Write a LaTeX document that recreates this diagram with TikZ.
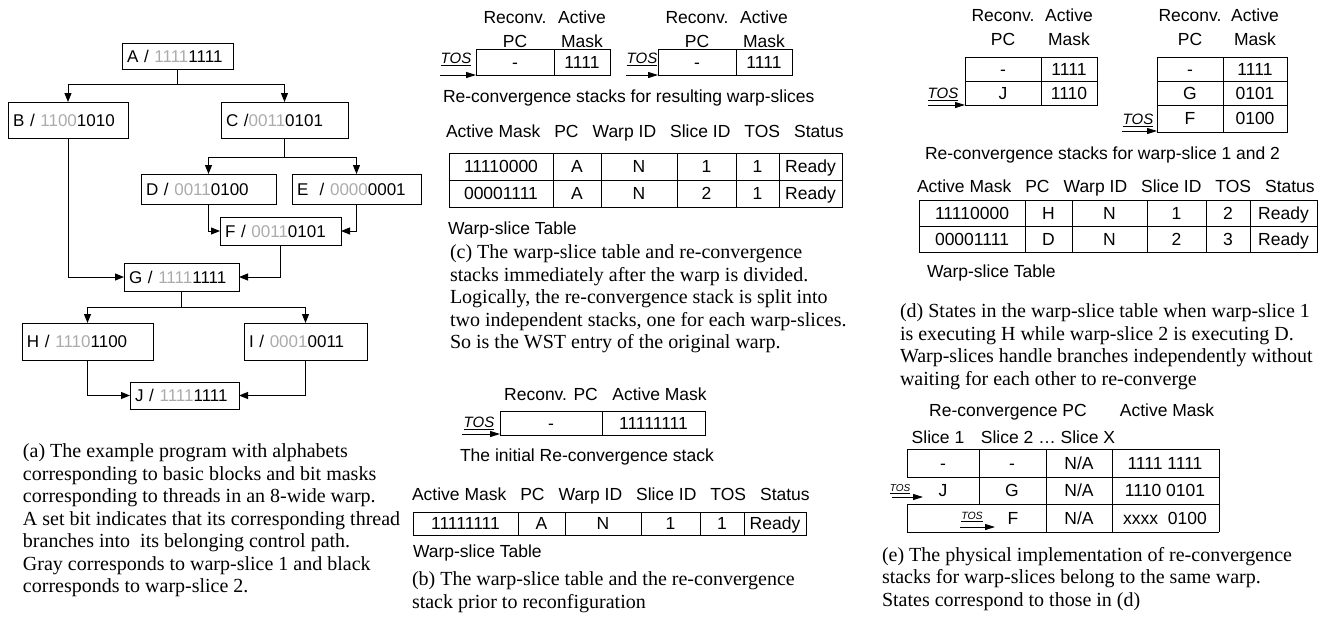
\documentclass[tikz,border=0pt]{standalone}
\usepackage{fontspec}
\setmainfont{Liberation Serif}
\setsansfont{Liberation Sans}
\usetikzlibrary{positioning,arrows.meta}
\definecolor{SliceGray}{HTML}{ABABAB}
\newcommand{\gbit}[1]{\textcolor{SliceGray}{#1}}
\newcommand{\hgap}{\hspace{14pt}}

\begin{document}
\begin{tikzpicture}[x=1pt,y=-1pt,line width=1pt,
  every node/.style={font=\sffamily\fontsize{17.5}{24}\selectfont,inner sep=0pt,outer sep=0pt}]
\tikzstyle{blk}=[draw,anchor=north west,align=left,inner xsep=5pt,text height=12.5pt,text depth=0pt,font=\sffamily\fontsize{17}{20}\selectfont]
\tikzstyle{cell}=[draw,minimum height=27pt,text height=12.5pt,text depth=0pt]
\tikzstyle{hd}=[text height=12.5pt,text depth=0pt]
\tikzstyle{tos}=[font=\sffamily\itshape\fontsize{15}{15}\selectfont]
\tikzstyle{captxt}=[font=\rmfamily\fontsize{20}{22.5}\selectfont,align=left,anchor=north west]
\tikzstyle{arr}=[-{Triangle[length=9pt,width=7pt]}]
\tikzstyle{tarr}=[-{Triangle[length=10pt,width=6pt]}]
\useasboundingbox (0,0) rectangle (1331,622);

% (a) control flow of the example program
\node[blk,text width=101pt,minimum height=26pt] (A) at (122,43) {\mbox{A / \gbit{1111}1111}};
\node[blk,text width=110pt,minimum height=36pt] (B) at (8,102) {\mbox{B / \gbit{1100}1010}};
\node[blk,text width=117pt,minimum height=36pt] (C) at (221,102) {\mbox{C /\gbit{0011}0101}};
\node[blk,text width=125pt,minimum height=30pt] (D) at (141,174) {\mbox{D / \gbit{0011}0100}};
\node[blk,text width=119pt,minimum height=30pt] (E) at (292,174) {\mbox{E\ \ / \gbit{0000}0001}};
\node[blk,text width=111pt,minimum height=28pt] (F) at (220,217) {\mbox{F / \gbit{0011}0101}};
\node[blk,text width=105pt,minimum height=28pt] (G) at (124,263) {\mbox{G / \gbit{1111}1111}};
\node[blk,text width=121pt,minimum height=37pt] (H) at (22,323) {\mbox{H / \gbit{1110}1100}};
\node[blk,text width=113pt,minimum height=37pt] (I) at (244,323) {\mbox{I / \gbit{0001}0011}};
\node[blk,text width=99pt,minimum height=27pt] (J) at (130,382) {\mbox{J / \gbit{1111}1111}};
\draw[arr] (A.south) -- ++(0,15) -| (B.north);
\draw[arr] (A.south) -- ++(0,15) -| (C.north);
\draw[arr] (C.south) -- ++(0,19) -| (D.north);
\draw[arr] (C.south) -- ++(0,19) -| (E.north);
\draw[arr] (D.south) |- (F.west);
\draw[arr] (E.south) |- (F.east);
\draw[arr] (B.south) |- (G.west);
\draw[arr] (F.south) |- (G.east);
\draw[arr] (G.south) -- ++(0,16) -| (H.north);
\draw[arr] (G.south) -- ++(0,16) -| (I.north);
\draw[arr] (H.south) |- (J.west);
\draw[arr] (I.south) |- (J.east);
\node[captxt] (capa) at (23,444) {(a) The example program with alphabets\\corresponding to basic blocks and bit masks\\corresponding to threads in an 8-wide warp.\\A set bit indicates that its corresponding thread\\branches into\ \ its belonging control path.\\Gray corresponds to warp-slice 1 and black\\corresponds to warp-slice 2.};

% (b) before the split
\node[cell,minimum width=102pt,minimum height=24pt,anchor=north west] (bs1) at (500,411) {-};
\node[cell,minimum width=103pt,minimum height=24pt,right=0pt of bs1] (bs2) {11111111};
\node[hd,above=11pt of bs1] (bh1) {Reconv. PC};
\node[hd,above=11pt of bs2,xshift=6pt] (bh2) {Active Mask};
\node[tos] (bt) at (479,423) {\underline{TOS}};
\coordinate (btt) at (462,434);
\draw[tarr] (btt) -- (btt -| bs1.west);
\node[anchor=west] (bstack) at (460,457) {The initial Re-convergence stack};
\node[cell,minimum width=105pt,minimum height=23pt,anchor=north west] (b1) at (413,512) {11111111};
\node[cell,minimum width=47pt,minimum height=23pt,right=0pt of b1] (b2) {A};
\node[cell,minimum width=76pt,minimum height=23pt,right=0pt of b2] (b3) {N};
\node[cell,minimum width=59pt,minimum height=23pt,right=0pt of b3] (b4) {1};
\node[cell,minimum width=44pt,minimum height=23pt,right=0pt of b4] (b5) {1};
\node[cell,minimum width=62pt,minimum height=23pt,right=0pt of b5] (b6) {Ready};
\node[hd,anchor=base west] (bk) at (412,500) {Active Mask\hgap PC\hgap Warp ID\hgap Slice ID\hgap TOS\hgap Status};
\node[anchor=west] (btab) at (413,553) {Warp-slice Table};
\node[captxt] (capb) at (412,572) {(b) The warp-slice table and the re-convergence\\stack prior to reconfiguration};

% (c) right after the split
\node[cell,minimum width=78pt,minimum height=26pt,anchor=north west] (cs1) at (476,49) {-};
\node[cell,minimum width=56pt,minimum height=26pt,right=0pt of cs1] (cs2) {1111};
\node[cell,minimum width=78pt,minimum height=26pt,anchor=north west] (cs3) at (658,49) {-};
\node[cell,minimum width=56pt,minimum height=26pt,right=0pt of cs3] (cs4) {1111};
\node[hd,align=center,above=2pt of cs1] (ch1) {Reconv.\\PC};
\node[hd,align=center,above=2pt of cs2] (ch2) {Active\\Mask};
\node[hd,align=center,above=2pt of cs3] (ch3) {Reconv.\\PC};
\node[hd,align=center,above=2pt of cs4] (ch4) {Active\\Mask};
\node[tos] (ct1) at (456,59) {\underline{TOS}};
\node[tos] (ct2) at (642,59) {\underline{TOS}};
\coordinate (ctt1) at (440,75);
\coordinate (ctt2) at (626,75);
\draw[tarr] (ctt1) -- (ctt1 -| cs1.west);
\draw[tarr] (ctt2) -- (ctt2 -| cs3.west);
\node[anchor=west] (cstack) at (443,98) {Re-convergence stacks for resulting warp-slices};
\node[cell,minimum width=104pt,anchor=north west] (c1) at (449,153) {11110000};
\node[cell,minimum width=48pt,right=0pt of c1] (c2) {A};
\node[cell,minimum width=76pt,right=0pt of c2] (c3) {N};
\node[cell,minimum width=59pt,right=0pt of c3] (c4) {1};
\node[cell,minimum width=43pt,right=0pt of c4] (c5) {1};
\node[cell,minimum width=63pt,right=0pt of c5] (c6) {Ready};
\node[cell,minimum width=104pt,below=0pt of c1] (c7) {00001111};
\node[cell,minimum width=48pt,right=0pt of c7] (c8) {A};
\node[cell,minimum width=76pt,right=0pt of c8] (c9) {N};
\node[cell,minimum width=59pt,right=0pt of c9] (c10) {2};
\node[cell,minimum width=43pt,right=0pt of c10] (c11) {1};
\node[cell,minimum width=63pt,right=0pt of c11] (c12) {Ready};
\node[hd,anchor=base west] (ck) at (446,137) {Active Mask\hgap PC\hgap Warp ID\hgap Slice ID\hgap TOS\hgap Status};
\node[anchor=west] (ctab) at (448,230) {Warp-slice Table};
\node[captxt] (capc) at (450,245) {(c) The warp-slice table and re-convergence\\stacks immediately after the warp is divided.\\Logically, the re-convergence stack is split into\\two independent stacks, one for each warp-slices.\\So is the WST entry of the original warp.};

% (d) slices running H and D
\node[cell,minimum width=76pt,minimum height=24pt,anchor=north west] (ds1) at (965,57) {-};
\node[cell,minimum width=56pt,minimum height=24pt,right=0pt of ds1] (ds2) {1111};
\node[cell,minimum width=76pt,minimum height=24pt,below=0pt of ds1] (ds3) {J};
\node[cell,minimum width=56pt,minimum height=24pt,right=0pt of ds3] (ds4) {1110};
\node[cell,minimum width=66pt,minimum height=24pt,anchor=north west] (ds5) at (1157,57) {-};
\node[cell,minimum width=64pt,minimum height=24pt,right=0pt of ds5] (ds6) {1111};
\node[cell,minimum width=66pt,minimum height=24pt,below=0pt of ds5] (ds7) {G};
\node[cell,minimum width=64pt,minimum height=24pt,right=0pt of ds7] (ds8) {0101};
\node[cell,minimum width=66pt,below=0pt of ds7] (ds9) {F};
\node[cell,minimum width=64pt,right=0pt of ds9] (ds10) {0100};
\node[hd,align=center,above=12pt of ds1] (dh1) {Reconv.\\PC};
\node[hd,align=center,above=12pt of ds2] (dh2) {Active\\Mask};
\node[hd,align=center,above=12pt of ds5] (dh3) {Reconv.\\PC};
\node[hd,align=center,above=12pt of ds6] (dh4) {Active\\Mask};
\node[tos] (dt1) at (943,94) {\underline{TOS}};
\node[tos] (dt2) at (1138,120) {\underline{TOS}};
\coordinate (dtt1) at (928,105);
\coordinate (dtt2) at (1122,131);
\draw[tarr] (dtt1) -- (dtt1 -| ds3.west);
\draw[tarr] (dtt2) -- (dtt2 -| ds9.west);
\node[anchor=west] (dstack) at (925,155) {Re-convergence stacks for warp-slice 1 and 2};
\node[cell,minimum width=106pt,minimum height=26pt,anchor=north west] (d1) at (919,200) {11110000};
\node[cell,minimum width=47pt,minimum height=26pt,right=0pt of d1] (d2) {H};
\node[cell,minimum width=75pt,minimum height=26pt,right=0pt of d2] (d3) {N};
\node[cell,minimum width=59pt,minimum height=26pt,right=0pt of d3] (d4) {1};
\node[cell,minimum width=44pt,minimum height=26pt,right=0pt of d4] (d5) {2};
\node[cell,minimum width=67pt,minimum height=26pt,right=0pt of d5] (d6) {Ready};
\node[cell,minimum width=106pt,minimum height=26pt,below=0pt of d1] (d7) {00001111};
\node[cell,minimum width=47pt,minimum height=26pt,right=0pt of d7] (d8) {D};
\node[cell,minimum width=75pt,minimum height=26pt,right=0pt of d8] (d9) {N};
\node[cell,minimum width=59pt,minimum height=26pt,right=0pt of d9] (d10) {2};
\node[cell,minimum width=44pt,minimum height=26pt,right=0pt of d10] (d11) {3};
\node[cell,minimum width=67pt,minimum height=26pt,right=0pt of d11] (d12) {Ready};
\node[hd,anchor=base west] (dk) at (917,192) {Active Mask\hgap PC\hgap Warp ID\hgap Slice ID\hgap TOS\hgap Status};
\node[anchor=west] (dtab) at (927,273) {Warp-slice Table};
\node[captxt] (capd) at (900,304) {(d) States in the warp-slice table when warp-slice 1\\is executing H while warp-slice 2 is executing D.\\Warp-slices handle branches independently without\\waiting for each other to re-converge};

% (e) one physical stack for all slices
\node[hd,anchor=base] (eh1) at (1008,416) {Re-convergence PC};
\node[hd,anchor=base] (eh2) at (1167,416) {Active Mask};
\node[hd,anchor=base] (eh3) at (938,443) {Slice 1};
\node[hd,anchor=base] (eh4) at (1048,443) {Slice 2 … Slice X};
\draw (907,449) -- (1219,449) (907,477) -- (1219,477) (907,504) -- (1219,504) (907,532) -- (1219,532);
\draw (907,449) -- (907,477) (907,504) -- (907,532) (979,449) -- (979,504);
\draw (1046,449) -- (1046,532) (1112,449) -- (1112,532) (1219,449) -- (1219,532);
\node[hd] (e1) at (943,463) {-};
\node[hd] (e2) at (1012,463) {-};
\node[hd] (e3) at (1079,463) {N/A};
\node[hd] (e4) at (1165,463) {1111 1111};
\node[hd] (e5) at (943,490.5) {J};
\node[hd] (e6) at (1012,490.5) {G};
\node[hd] (e7) at (1079,490.5) {N/A};
\node[hd] (e8) at (1165,490.5) {1110 0101};
\node[hd] (e9) at (1013,518) {F};
\node[hd] (e10) at (1079,518) {N/A};
\node[hd] (e11) at (1165,518) {xxxx\ \ 0100};
\node[tos,font=\sffamily\itshape\fontsize{10}{10}\selectfont] (et1) at (900,489) {\underline{TOS}};
\node[tos,font=\sffamily\itshape\fontsize{10.5}{10}\selectfont] (et2) at (972,517) {\underline{TOS}};
\coordinate (ett1) at (892,497);
\coordinate (ett2) at (960,527);
\draw[tarr] (ett1) -- ++(31,0);
\draw[tarr] (ett2) -- ++(35,0);
\node[captxt] (cape) at (882,547) {(e) The physical implementation of re-convergence\\stacks for warp-slices belong to the same warp.\\States correspond to those in (d)};
\end{tikzpicture}
\end{document}
